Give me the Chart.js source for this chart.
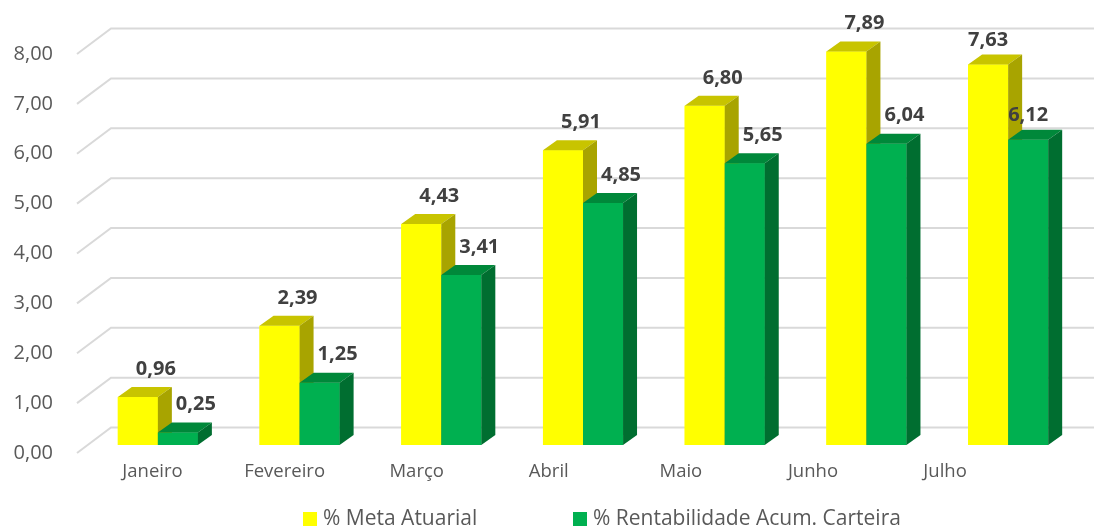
<!DOCTYPE html>
<html>
<head>
<meta charset="utf-8">
<script src="https://cdn.jsdelivr.net/npm/chart.js@4.4.1/dist/chart.umd.min.js"></script>
<style>
  html, body { margin: 0; padding: 0; background: #fff; }
  #wrap { width: 1096px; height: 529px; }
</style>
</head>
<body>
<div id="wrap"><canvas id="chart"></canvas></div>
<script>
// -----------------------
// Dados
// -----------------------
const months = ["Janeiro", "Fevereiro", "Março", "Abril", "Maio", "Junho", "Julho"];
const metaAtuarial = [0.96, 2.39, 4.43, 5.91, 6.80, 7.89, 7.63];
const rentabilidade = [0.25, 1.25, 3.41, 4.85, 5.65, 6.04, 6.12];
const yTicks = [0, 1, 2, 3, 4, 5, 6, 7, 8];
const seriesNames = ["% Meta Atuarial", "% Rentabilidade Acum. Carteira"];

// cores: frente, topo, lateral
const faces = [
  { front: "#FFFF00", top: "#C8C400", side: "#A8A400" },
  { front: "#00B050", top: "#00883A", side: "#006E30" }
];
const DEPTH_X = 14, DEPTH_Y = -10;
const TEXT = "#595959";

Chart.defaults.font.family = "'Open Sans', sans-serif";
Chart.defaults.color = TEXT;

const fmt = v => v.toFixed(2).replace(".", ",");

function poly(ctx, pts) {
  ctx.beginPath();
  ctx.moveTo(pts[0][0], pts[0][1]);
  for (let i = 1; i < pts.length; i++) ctx.lineTo(pts[i][0], pts[i][1]);
  ctx.closePath();
  ctx.fill();
}

// -----------------------
// Plugin "3D": grade, topo/lateral das barras, rótulos, legenda
// -----------------------
const bars3d = {
  id: "bars3d",
  beforeDatasetsDraw(chart) {
    const { ctx, chartArea: a, scales: { y } } = chart;
    ctx.save();
    ctx.strokeStyle = "#D9D9D9";
    ctx.lineWidth = 2;
    yTicks.forEach(v => {
      const py = y.getPixelForValue(v);
      ctx.beginPath();
      ctx.moveTo(a.left - 10, py + 8);
      ctx.lineTo(a.left + 24, py - 17.5);
      ctx.lineTo(a.right + 15, py - 17.5);
      ctx.stroke();
    });
    ctx.restore();
  },
  afterDatasetsDraw(chart) {
    // redesenha na ordem da série (amarelo antes do verde) com topo e lateral
    const { ctx } = chart;
    ctx.save();
    chart.data.datasets.forEach((ds, i) => {
      const c = faces[i];
      chart.getDatasetMeta(i).data.forEach(bar => {
        bar.draw(ctx);
        const { x, y, base, width } = bar.getProps(["x", "y", "base", "width"], true);
        const l = x - width / 2, r = x + width / 2;
        ctx.fillStyle = c.top;
        poly(ctx, [[l, y], [r, y], [r + DEPTH_X, y + DEPTH_Y], [l + DEPTH_X, y + DEPTH_Y]]);
        ctx.fillStyle = c.side;
        poly(ctx, [[r, y], [r + DEPTH_X, y + DEPTH_Y], [r + DEPTH_X, base + DEPTH_Y], [r, base]]);
      });
    });
    ctx.restore();
  },
  afterDraw(chart) {
    const { ctx } = chart;
    ctx.save();
    // rótulos de dados
    ctx.font = "bold 20px 'Open Sans', sans-serif";
    ctx.fillStyle = "#404040";
    ctx.textAlign = "center";
    ctx.textBaseline = "middle";
    chart.data.datasets.forEach((ds, i) => {
      chart.getDatasetMeta(i).data.forEach((bar, j) => {
        const last = j === months.length - 1;
        ctx.fillText(fmt(ds.data[j]), bar.x + (last ? 0 : 18), bar.y - (last ? 24 : 28));
      });
    });
    // legenda
    const lx = [303, 573], ly = 519;
    ctx.font = "21px 'Open Sans', sans-serif";
    ctx.textAlign = "left";
    chart.data.datasets.forEach((ds, i) => {
      ctx.fillStyle = faces[i].front;
      ctx.fillRect(lx[i], ly - 7, 14, 14);
      ctx.fillStyle = TEXT;
      ctx.fillText(ds.label, lx[i] + 20, ly);
    });
    ctx.restore();
  }
};

// -----------------------
// Gráfico
// -----------------------
new Chart(document.getElementById("chart"), {
  type: "bar",
  data: {
    labels: months,
    datasets: [
      { label: seriesNames[0], data: metaAtuarial, backgroundColor: faces[0].front },
      { label: seriesNames[1], data: rentabilidade, backgroundColor: faces[1].front }
    ]
  },
  options: {
    responsive: true,
    maintainAspectRatio: false,
    animation: false,
    layout: { padding: { top: 43, right: 17, bottom: 0, left: 0 } },
    datasets: { bar: { categoryPercentage: 0.565, barPercentage: 1, borderWidth: 0 } },
    plugins: { legend: { display: false }, tooltip: { enabled: false } },
    scales: {
      x: { display: false, offset: true },
      // eixo só para os rótulos dos meses (posição do piso em perspectiva)
      xl: {
        type: "linear",
        position: "bottom",
        offset: false,
        bounds: "data",
        min: -0.496,
        max: 7.014,
        grid: { display: false, drawTicks: false, offset: false },
        border: { display: false },
        afterBuildTicks: s => { s.ticks = months.map((m, i) => ({ value: i })); },
        ticks: {
          autoSkip: false,
          maxRotation: 0,
          padding: 16,
          font: { size: 18.5 },
          callback: v => months[v] ?? ""
        },
        afterFit: s => { s.height = 84; }
      },
      y: {
        min: 0,
        max: 8,
        grid: { display: false, drawTicks: false },
        border: { display: false },
        ticks: { stepSize: 1, padding: 34, labelOffset: 8, font: { size: 20 }, callback: v => fmt(v) },
        afterFit: s => { s.width = 87; }
      }
    }
  },
  plugins: [bars3d]
});
</script>
</body>
</html>
